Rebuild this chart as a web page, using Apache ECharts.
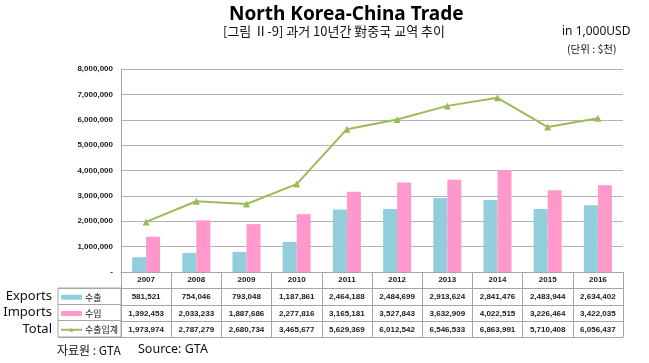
<!DOCTYPE html>
<html>
<head>
<meta charset="utf-8">
<script src="https://cdn.jsdelivr.net/npm/echarts@6/dist/echarts.min.js"></script>
<style>
html,body{margin:0;padding:0;background:#fff;}
#main{width:649px;height:363px;}
</style>
</head>
<body>
<div id="main"></div>
<script>
var years = ['2007','2008','2009','2010','2011','2012','2013','2014','2015','2016'];
var exportsVals = [581521, 754046, 793048, 1187861, 2464188, 2484699, 2913624, 2841476, 2483944, 2634402];
var importsVals = [1392453, 2033233, 1887686, 2277816, 3165181, 3527843, 3632909, 4022515, 3226464, 3422035];
var totalVals = [1973974, 2787279, 2680734, 3465677, 5629369, 6012542, 6546533, 6863991, 5710408, 6056437];
var rowNames = ['Exports', 'Imports', 'Total'];
var seriesNames = ['수출', '수입', '수출입계'];
var yTicks = { min: 0, max: 8000000, interval: 1000000 };

function fmt(v) { return v.toLocaleString('en-US'); }

var GRAY = '#a6a6a6';
var tableFont = { fontFamily: 'Liberation Sans, Arial, sans-serif', fontSize: 8, fontWeight: 'bold', color: '#1a1a1a' };

function rowAxis(values, offset, showLabels) {
  return {
    type: 'category', gridIndex: 0, position: 'bottom', offset: offset,
    data: values.map(function (v) { return showLabels ? fmt(v) : ''; }),
    axisLine: { show: true, lineStyle: { color: GRAY, width: 1 } },
    axisTick: { show: false },
    splitLine: { show: false },
    axisLabel: Object.assign({ show: showLabels, interval: 0, margin: 5 }, tableFont)
  };
}

var chart = echarts.init(document.getElementById('main'));
chart.setOption({
  backgroundColor: '#fff',
  animation: false,
  graphic: [
    { type: 'text', left: 229, top: 5, style: { text: 'North Korea-China Trade', font: 'bold 19px "Noto Sans", sans-serif', fill: '#000' } },
    { type: 'text', left: 223, top: 25, style: { text: '[그림 Ⅱ-9] 과거 10년간 對중국 교역 추이', font: '13px "Noto Sans CJK KR", sans-serif', fill: '#111' } },
    { type: 'text', left: 562, top: 26, style: { text: 'in 1,000USD', font: '12px "Noto Sans", sans-serif', fill: '#111' } },
    { type: 'text', left: 567, top: 44, style: { text: '(단위 : $천)', font: '10.5px "Noto Sans CJK KR", sans-serif', fill: '#111' } },
    { type: 'text', left: 57, top: 344, style: { text: '자료원 : GTA', font: '12px "Noto Sans CJK KR", sans-serif', fill: '#111' } },
    { type: 'text', left: 138, top: 343, style: { text: 'Source: GTA', font: '12.5px "Noto Sans", sans-serif', fill: '#111' } }
  ],
  legend: {
    orient: 'vertical', left: 60, top: 289, itemGap: 0, itemWidth: 21, itemHeight: 5,
    padding: 0,
    data: seriesNames,
    textStyle: { fontFamily: '"Noto Sans CJK KR", sans-serif', fontSize: 9, color: '#111', lineHeight: 16.3, padding: [0, 0, 0, -2] }
  },
  grid: [
    { left: 121, right: 26, top: 69, bottom: 91 },
    { left: 58, top: 288, width: 63, height: 49, show: true, borderColor: GRAY, borderWidth: 1, backgroundColor: 'transparent' }
  ],
  xAxis: [
    {
      type: 'category', gridIndex: 0, data: years, position: 'bottom',
      axisLine: { show: true, lineStyle: { color: GRAY, width: 1 } },
      axisTick: { show: true, length: 65, interval: 0, lineStyle: { color: GRAY, width: 1 } },
      axisLabel: Object.assign({ interval: 0, margin: 4 }, tableFont)
    },
    rowAxis(exportsVals, 16, true),
    rowAxis(importsVals, 33, true),
    rowAxis(totalVals, 49, true),
    rowAxis(totalVals, 65, false),
    { type: 'value', gridIndex: 1, show: false }
  ],
  yAxis: [
    {
      type: 'value', gridIndex: 0, min: yTicks.min, max: yTicks.max, interval: yTicks.interval,
      axisLine: { show: true, lineStyle: { color: GRAY } },
      axisTick: { show: false },
      splitLine: { show: true, lineStyle: { color: '#b3b3b3', width: 1 } },
      axisLabel: Object.assign({ margin: 8, formatter: function (v) { return v === 0 ? '-' : fmt(v); } }, tableFont)
    },
    {
      type: 'category', gridIndex: 1, inverse: true, data: rowNames,
      axisLine: { show: false }, axisTick: { show: false },
      splitLine: { show: true, interval: 0, lineStyle: { color: GRAY, width: 1 } },
      axisLabel: { interval: 0, margin: 6, fontFamily: '"Noto Sans", sans-serif', fontSize: 13, color: '#111' }
    }
  ],
  series: [
    { name: seriesNames[0], type: 'bar', xAxisIndex: 0, yAxisIndex: 0, data: exportsVals, barWidth: 14, barGap: '0%', itemStyle: { color: '#92cddc' } },
    { name: seriesNames[1], type: 'bar', xAxisIndex: 0, yAxisIndex: 0, data: importsVals, barWidth: 14, barGap: '0%', itemStyle: { color: '#ff99cc' } },
    { name: seriesNames[2], type: 'line', xAxisIndex: 0, yAxisIndex: 0, data: totalVals, symbol: 'triangle', symbolSize: 7, showSymbol: true,
      lineStyle: { color: '#9bbb59', width: 2 }, itemStyle: { color: '#9bbb59' } }
  ]
});
</script>
</body>
</html>
